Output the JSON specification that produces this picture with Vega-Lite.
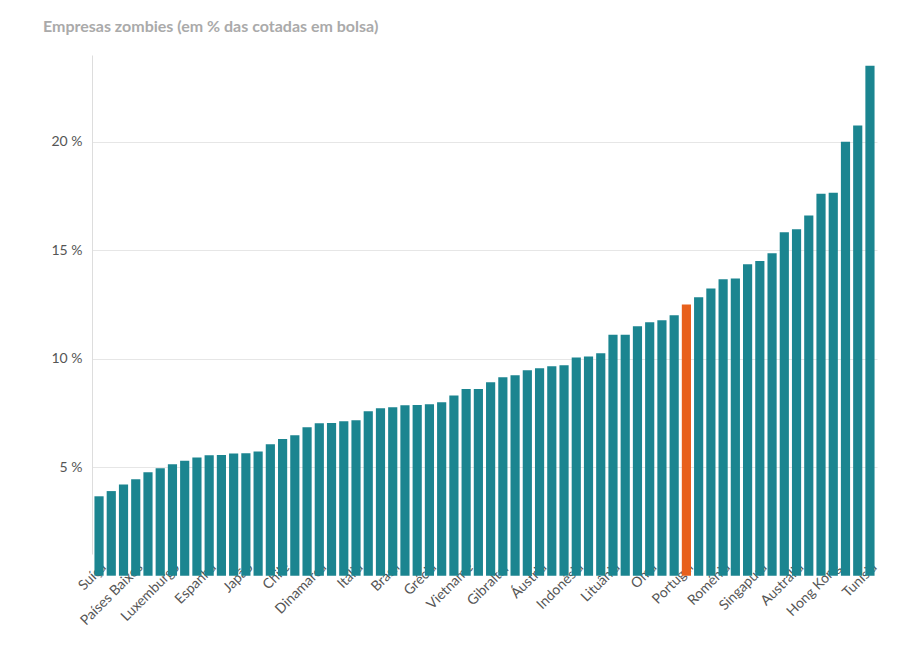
{"$schema":"https://vega.github.io/schema/vega-lite/v6.json","width":785,"height":499,"autosize":{"type":"none"},"padding":{"left":92,"top":55,"right":39,"bottom":104},
"title":{"text":"Empresas zombies (em % das cotadas em bolsa)","anchor":"start","frame":"group","dx":-49,"offset":20,"font":"Lato","fontSize":16,"fontWeight":"bold","color":"#aaaaaa"},
"config":{"view":{"stroke":null},"font":"Lato"},
"data":{"values":[
{"p":"Suíça","v":3.66},{"p":"Bélgica","v":3.9},{"p":"Alemanha","v":4.2},{"p":"Países Baixos","v":4.45},{"p":"França","v":4.77},{"p":"Noruega","v":4.95},{"p":"Luxemburgo","v":5.14},{"p":"Suécia","v":5.3},{"p":"Finlândia","v":5.45},{"p":"Espanha","v":5.55},{"p":"Irlanda","v":5.56},{"p":"Reino Unido","v":5.63},{"p":"Japão","v":5.64},{"p":"EUA","v":5.73},{"p":"Canadá","v":6.06},{"p":"Chile","v":6.3},{"p":"México","v":6.47},{"p":"Peru","v":6.84},{"p":"Dinamarca","v":7.03},{"p":"Colômbia","v":7.04},{"p":"Argentina","v":7.12},{"p":"Itália","v":7.17},{"p":"Polónia","v":7.58},{"p":"Hungria","v":7.72},{"p":"Brasil","v":7.76},{"p":"Chéquia","v":7.86},{"p":"Eslováquia","v":7.87},{"p":"Grécia","v":7.9},{"p":"Eslovénia","v":8.0},{"p":"Croácia","v":8.3},{"p":"Vietname","v":8.6},{"p":"Bulgária","v":8.61},{"p":"Sérvia","v":8.92},{"p":"Gibraltar","v":9.15},{"p":"Turquia","v":9.24},{"p":"Israel","v":9.47},{"p":"Áustria","v":9.56},{"p":"Egito","v":9.65},{"p":"Marrocos","v":9.7},{"p":"Indonésia","v":10.06},{"p":"Jordânia","v":10.1},{"p":"Kuwait","v":10.25},{"p":"Lituânia","v":11.1},{"p":"Catar","v":11.11},{"p":"Bahrein","v":11.5},{"p":"Omã","v":11.68},{"p":"Arábia Saudita","v":11.77},{"p":"EAU","v":12.0},{"p":"Portugal","v":12.5},{"p":"Índia","v":12.83},{"p":"Paquistão","v":13.24},{"p":"Roménia","v":13.66},{"p":"Sri Lanka","v":13.7},{"p":"Bangladesh","v":14.35},{"p":"Singapura","v":14.5},{"p":"Tailândia","v":14.86},{"p":"Malásia","v":15.83},{"p":"Austrália","v":15.97},{"p":"Filipinas","v":16.6},{"p":"China","v":17.6},{"p":"Hong Kong","v":17.65},{"p":"Taiwan","v":20.0},{"p":"Coreia do Sul","v":20.75},{"p":"Tunísia","v":23.5}]},
"mark":{"type":"bar"},
"encoding":{
"x":{"field":"p","type":"nominal","sort":null,"scale":{"paddingInner":0.25,"paddingOuter":0.2},"title":null,
"axis":{"values":["Suíça","Países Baixos","Luxemburgo","Espanha","Japão","Chile","Dinamarca","Itália","Brasil","Grécia","Vietname","Gibraltar","Áustria","Indonésia","Lituânia","Omã","Portugal","Roménia","Singapura","Austrália","Hong Kong","Tunísia"],"labelAngle":-45,"labelAlign":"right","labelBaseline":"top","labelFontSize":14,"labelColor":"#555555","ticks":false,"domain":false,"labelPadding":6,"labelOverlap":false}},
"y":{"field":"v","type":"quantitative","scale":{"domain":[1,24],"nice":false,"zero":false},"title":null,
"axis":{"values":[5,10,15,20],"labelExpr":"datum.value + ' %'","labelFontSize":14,"labelColor":"#555555","ticks":false,"domain":true,"domainColor":"#dddddd","gridColor":"#e6e6e6","labelPadding":10}},
"color":{"condition":{"test":"datum.p === 'Portugal'","value":"#e8601c"},"value":"#1b8590"}
}}
